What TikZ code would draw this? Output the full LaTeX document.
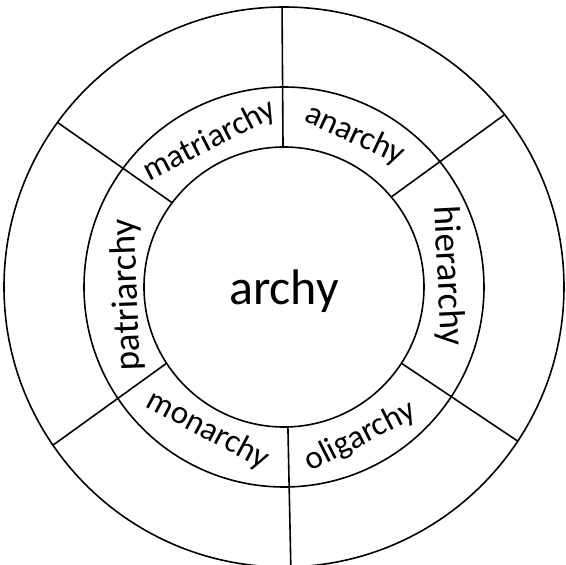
\documentclass[tikz,border=0pt]{standalone}
\usepackage{fontspec}
\setmainfont{Carlito}
\begin{document}
\begin{tikzpicture}[line join=round, line cap=round, x=1pt, y=1pt]
			\def\rin{140} \def\rmid{200} \def\rout{280}
			\tikzset{ring/.style={line width=1.6pt},
				word/.style={inner sep=0pt, font=\fontsize{33}{36}\selectfont},
				longword/.style={inner sep=0pt, font=\fontsize{37}{40}\selectfont}}
			\useasboundingbox (-284,-278) rectangle (282,287);
			\draw[ring] (0,0) circle (\rout) (0,0) circle (\rmid) (0,0) circle (\rin);
			\foreach \a/\b in {90.4/90.4, 40/38, -33/-33.4, -88.4/-88.6, 213/214.4, 143/144}{
				\draw[ring] (\a:\rin)--(\b:\rout);
			}
			\node[font=\fontsize{50}{54}\selectfont] (archy) at (0,-4) {archy};
			% names round the ring
			\node[word, rotate=27] (matri) at (117:164) {matriarchy};
			\node[word, rotate=-25] (anar) at (65:168) {anarchy};
			\node[longword, rotate=-87] (hier) at (4:164) {hierarchy};
			\node[word, rotate=27] (olig) at (-63:168) {oligarchy};
			\node[word, rotate=-28] (monar) at (-118:162) {monarchy};
			\node[longword, rotate=92] (patri) at (183:157) {patriarchy};
		\end{tikzpicture}
\end{document}
